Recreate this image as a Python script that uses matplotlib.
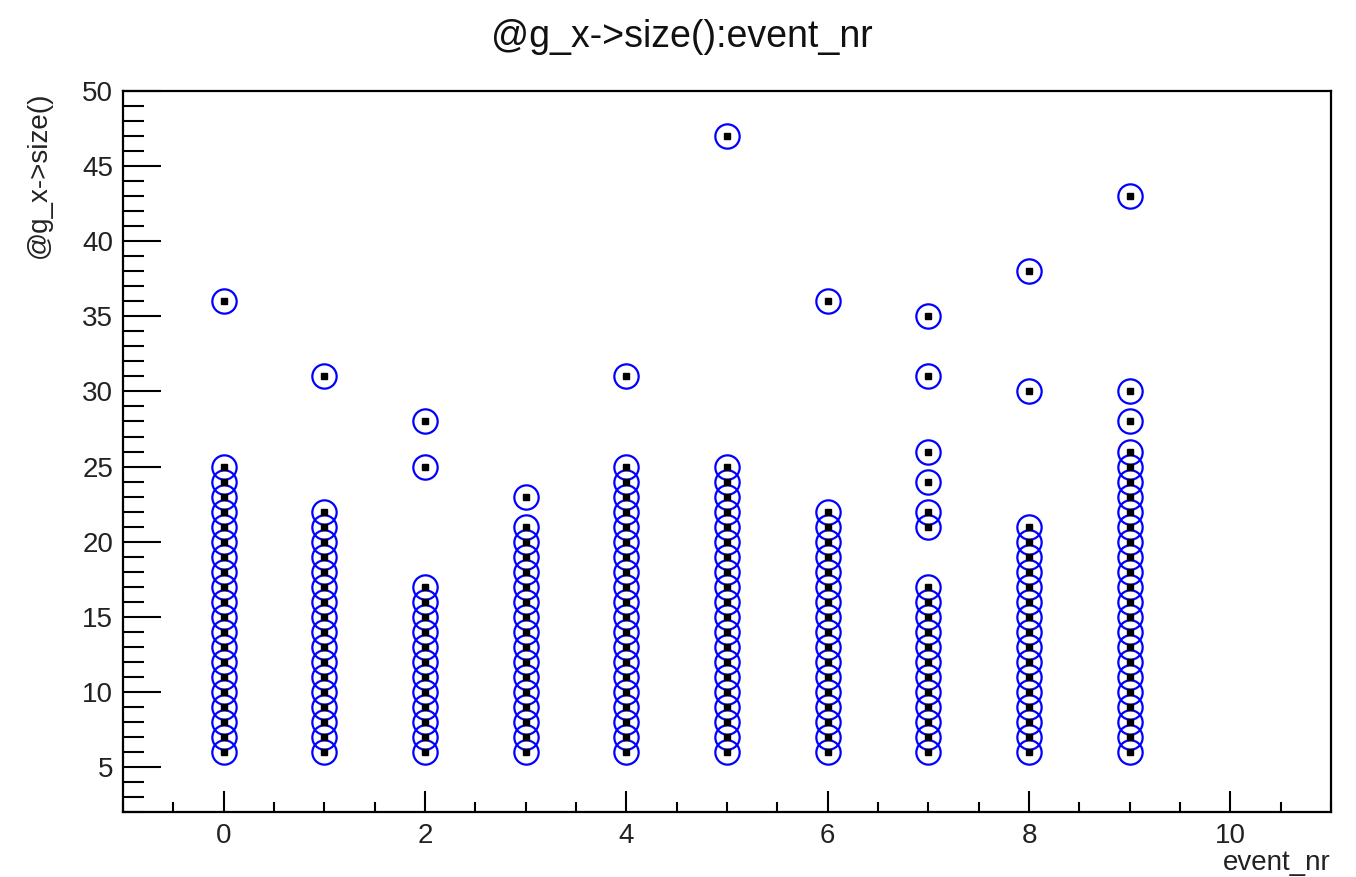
import matplotlib.pyplot as plt
from matplotlib.ticker import MultipleLocator

plt.rcParams['font.family'] = ['Liberation Sans', 'DejaVu Sans']

# number of entries of g_x per event
event_nr = [0, 1, 2, 3, 4, 5, 6, 7, 8, 9]
size_lo = [6, 6, 6, 6, 6, 6, 6, 6, 6, 6]
size_hi = [25, 22, 17, 21, 25, 25, 22, 17, 21, 26]
extra_sizes = [
    [36],
    [31],
    [25, 28],
    [23],
    [31],
    [47],
    [36],
    [21, 22, 24, 26, 31, 35],
    [30, 38],
    [28, 30, 43],
]

xs, ys = [], []
for ev, lo, hi, extra in zip(event_nr, size_lo, size_hi, extra_sizes):
    for s in list(range(lo, hi + 1)) + extra:
        xs.append(ev)
        ys.append(s)

fig = plt.figure(figsize=(13.56, 8.77), dpi=100)
ax = fig.add_axes([0.0907, 0.0741, 0.8909, 0.8221])

ax.plot(xs, ys, linestyle='none', marker='o', markersize=17.5,
        markerfacecolor='none', markeredgecolor='#0000ff', markeredgewidth=1.6)
ax.plot(xs, ys, linestyle='none', marker='s', markersize=5,
        markerfacecolor='black', markeredgecolor='black')

ax.set_xlim(-1, 11)
ax.set_ylim(2, 50)

ax.xaxis.set_major_locator(MultipleLocator(2))
ax.xaxis.set_minor_locator(MultipleLocator(0.5))
ax.yaxis.set_major_locator(MultipleLocator(5))
ax.yaxis.set_minor_locator(MultipleLocator(1))
ax.set_yticks(range(5, 51, 5))

ax.tick_params(axis='both', which='both', direction='in', top=False, right=False,
               labelsize=20, width=1.5, colors='black', labelcolor='#222222')
ax.tick_params(axis='y', which='major', length=27, pad=7)
ax.tick_params(axis='y', which='minor', length=15)
ax.tick_params(axis='x', which='major', length=15, pad=8)
ax.tick_params(axis='x', which='minor', length=7)
for sp in ax.spines.values():
    sp.set_linewidth(1.6)

fig.text(0.503, 0.958, '@g_x->size():event_nr', ha='center', va='center',
         fontsize=27, color='#111111')
ax.set_xlabel('event_nr', fontsize=20, loc='right', color='#222222')
ax.set_ylabel('@g_x->size()', fontsize=20, loc='top', color='#222222')
ax.xaxis.set_label_coords(1.0, -0.052)
ax.yaxis.set_label_coords(-0.059, 1.0)

fig.savefig('out.png', dpi=100)
